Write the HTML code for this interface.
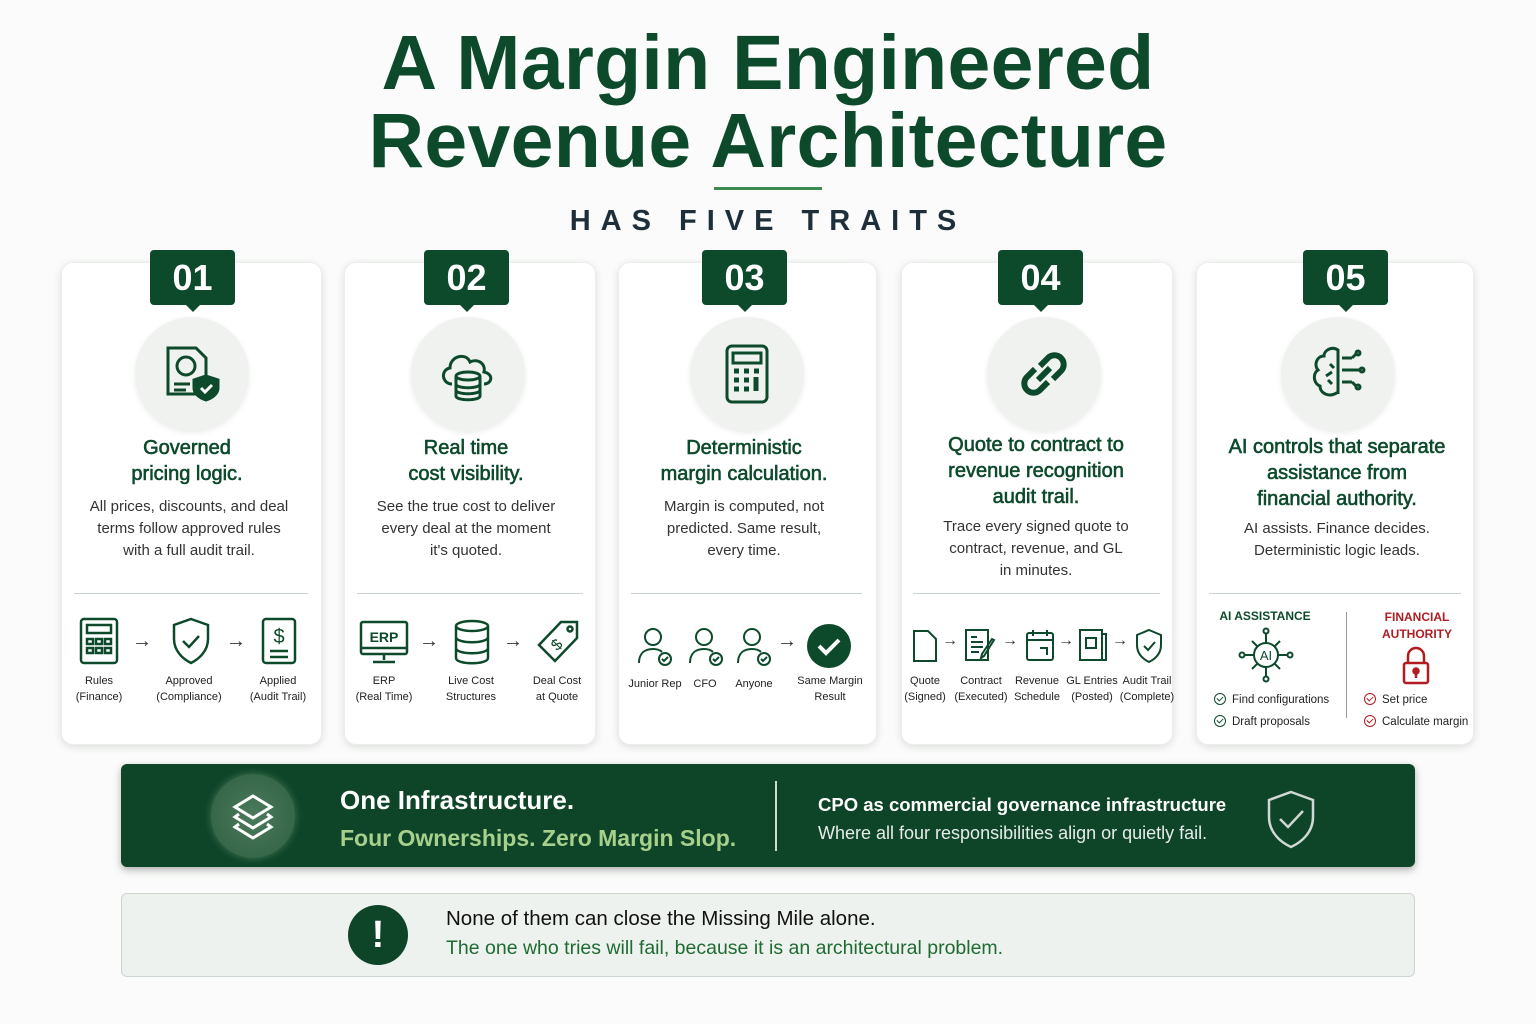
<!DOCTYPE html>
<html><head><meta charset="utf-8"><style>
*{margin:0;padding:0;box-sizing:border-box}
body{width:1536px;height:1024px;background:#fafbfa;font-family:"Liberation Sans",sans-serif;position:relative;overflow:hidden;color:#1f2a24}
.a{position:absolute}
h1{position:absolute;left:0;width:1536px;text-align:center;font-size:77px;line-height:78px;top:24px;color:#0d4a2c;font-weight:700;letter-spacing:0.3px}
.card{position:absolute;top:262px;height:483px;background:#fff;border-radius:12px;box-shadow:0 2px 8px rgba(0,0,0,.12);border:1px solid #eceeec}
.badge{position:absolute;top:250px;width:85px;height:55px;background:#0d4a2c;color:#fff;font-size:36px;font-weight:700;text-align:center;line-height:55px;border-radius:4px}
.badge:after{content:"";position:absolute;left:36px;bottom:-7px;border-left:7px solid transparent;border-right:7px solid transparent;border-top:7px solid #0d4a2c}
.circ{position:absolute;top:317px;width:114px;height:114px;border-radius:50%;background:#f0f2f0;box-shadow:0 2px 6px rgba(0,0,0,.08)}
.circ svg{position:absolute;left:27px;top:27px}
.tt{position:absolute;text-align:center;font-size:20px;line-height:26px;color:#0d4a2c;font-weight:normal;-webkit-text-stroke:0.6px #0d4a2c}
.ds{position:absolute;text-align:center;font-size:15px;line-height:22px;color:#333}
.hr{position:absolute;top:593px;height:1px;background:#c8d2cc}
.lb{position:absolute;text-align:center;font-size:11px;line-height:16px;color:#222}
.ar{position:absolute;font-size:20px;color:#333}
.ck{display:inline-block;width:12px;height:12px;border-radius:50%;border:1.5px solid;vertical-align:-2px;position:relative;margin-right:6px}
.ck:after{content:"";position:absolute;left:3px;top:1px;width:3px;height:5px;border:solid;border-width:0 1.5px 1.5px 0;transform:rotate(45deg)}
</style></head><body>
<h1>A Margin Engineered<br>Revenue Architecture</h1>
<div class="a" style="left:714px;top:187px;width:108px;height:3px;background:#3d8a4e"></div>
<div class="a" style="left:0;width:1536px;top:205px;text-align:center;font-size:29px;letter-spacing:10px;color:#1f2f3a;font-weight:700">HAS FIVE TRAITS</div>

<div class="card" style="left:61px;width:261px"></div>
<div class="card" style="left:344px;width:252px"></div>
<div class="card" style="left:618px;width:259px"></div>
<div class="card" style="left:901px;width:272px"></div>
<div class="card" style="left:1196px;width:278px"></div>

<div class="badge" style="left:150px">01</div>
<div class="badge" style="left:424px">02</div>
<div class="badge" style="left:702px">03</div>
<div class="badge" style="left:998px">04</div>
<div class="badge" style="left:1303px">05</div>

<div class="circ" style="left:135px"><svg width="60" height="60" viewBox="0 0 60 60" fill="none" stroke="#0d4a2c" stroke-width="3"><path d="M6 4h28l10 10v36H6z"/><circle cx="24" cy="22" r="9"/><path d="M12 40h16M12 46h12"/><path d="M44 32l12 4v8c0 6-6 10-12 12-6-2-12-6-12-12v-8z" fill="#0d4a2c"/><path d="M39 44l4 4 7-7" stroke="#fff"/></svg></div>
<div class="circ" style="left:411px"><svg width="60" height="60" viewBox="0 0 60 60" fill="none" stroke="#0d4a2c" stroke-width="3"><path d="M14 40C4 40 2 26 12 24 12 12 28 8 32 18c8-4 16 2 14 10 10 2 8 12 0 12"/><ellipse cx="30" cy="32" rx="12" ry="4"/><path d="M18 32v20c0 5 24 5 24 0V32M18 40c0 5 24 5 24 0M18 46c0 5 24 5 24 0"/></svg></div>
<div class="circ" style="left:690px"><svg width="60" height="60" viewBox="0 0 60 60" fill="none" stroke="#0d4a2c" stroke-width="3"><rect x="10" y="2" width="40" height="56" rx="5"/><rect x="16" y="9" width="28" height="10"/><path d="M17 27h5M27 27h5M37 27h5M17 36h5M27 36h5M17 45h5M27 45h5M39 33v14" stroke-width="5"/></svg></div>
<div class="circ" style="left:987px"><svg width="60" height="60" viewBox="0 0 60 60" fill="none" stroke="#0d4a2c" stroke-width="6"><path d="M26 22l8-8a9 9 0 0113 13l-8 8"/><path d="M34 38l-8 8a9 9 0 01-13-13l8-8"/><path d="M24 36l12-12"/></svg></div>
<div class="circ" style="left:1281px"><svg width="60" height="60" viewBox="0 0 60 60" fill="none" stroke="#0d4a2c" stroke-width="3"><path d="M30 6c-6-4-14 0-14 6-8 0-10 10-6 14-6 4-4 14 2 16 0 8 10 12 18 6zM30 6v44M22 20l4 4M18 32l6-4M24 40l-4-4"/><path d="M34 14h10M34 26h18M34 38h10M44 14l4-4M44 38l4 4"/><circle cx="50" cy="9" r="2"/><circle cx="54" cy="26" r="2"/><circle cx="50" cy="43" r="2"/></svg></div>

<div class="tt" style="left:61px;width:252px;top:435px">Governed<br>pricing logic.</div>
<div class="ds" style="left:61px;width:256px;top:496px">All prices, discounts, and deal<br>terms follow approved rules<br>with a full audit trail.</div>
<div class="tt" style="left:344px;width:244px;top:435px">Real time<br>cost visibility.</div>
<div class="ds" style="left:344px;width:244px;top:496px">See the true cost to deliver<br>every deal at the moment<br>it's quoted.</div>
<div class="tt" style="left:618px;width:252px;top:435px">Deterministic<br>margin calculation.</div>
<div class="ds" style="left:618px;width:252px;top:496px">Margin is computed, not<br>predicted. Same result,<br>every time.</div>
<div class="tt" style="left:901px;width:270px;top:432px">Quote to contract to<br>revenue recognition<br>audit trail.</div>
<div class="ds" style="left:901px;width:270px;top:516px">Trace every signed quote to<br>contract, revenue, and GL<br>in minutes.</div>
<div class="tt" style="left:1196px;width:282px;top:434px">AI controls that separate<br>assistance from<br>financial authority.</div>
<div class="ds" style="left:1196px;width:282px;top:518px">AI assists. Finance decides.<br>Deterministic logic leads.</div>

<div class="hr" style="left:74px;width:234px"></div>
<div class="hr" style="left:357px;width:226px"></div>
<div class="hr" style="left:631px;width:231px"></div>
<div class="hr" style="left:913px;width:247px"></div>
<div class="hr" style="left:1209px;width:252px"></div>

<svg class="a" style="left:78px;top:617px" width="42" height="48" viewBox="0 0 42 48" fill="none" stroke="#0d4a2c" stroke-width="2.5"><rect x="3" y="2" width="36" height="44" rx="3"/><rect x="9" y="8" width="24" height="8"/><path d="M9 22h6v5H9zM18 22h6v5h-6zM27 22h6v5h-6zM9 31h6v5H9zM18 31h6v5h-6zM27 31h6v5h-6z"/></svg>
<svg class="a" style="left:170px;top:617px" width="42" height="48" viewBox="0 0 42 48" fill="none" stroke="#0d4a2c" stroke-width="2.5"><path d="M21 2l17 6v14c0 12-9 20-17 24C13 42 4 34 4 22V8z"/><path d="M13 24l6 6 10-11"/></svg>
<svg class="a" style="left:260px;top:617px" width="38" height="48" viewBox="0 0 38 48" fill="none" stroke="#0d4a2c" stroke-width="2.5"><rect x="3" y="2" width="32" height="44" rx="3"/><path d="M10 34h18M10 40h18"/><text x="19" y="26" font-size="20" text-anchor="middle" fill="#0d4a2c" stroke="none" font-family="Liberation Sans">$</text></svg>
<div class="ar" style="left:132px;top:630px">→</div><div class="ar" style="left:226px;top:630px">→</div>
<div class="lb" style="left:68px;width:62px;top:673px">Rules<br>(Finance)</div>
<div class="lb" style="left:148px;width:82px;top:673px">Approved<br>(Compliance)</div>
<div class="lb" style="left:242px;width:72px;top:673px">Applied<br>(Audit Trail)</div>

<svg class="a" style="left:359px;top:620px" width="50" height="46" viewBox="0 0 50 46" fill="none" stroke="#0d4a2c" stroke-width="2.5"><rect x="2" y="2" width="46" height="32" rx="2"/><path d="M2 28h46M25 34v6M14 42h22"/><text x="25" y="22" font-size="14" font-weight="bold" text-anchor="middle" fill="#0d4a2c" stroke="none" font-family="Liberation Sans">ERP</text></svg>
<svg class="a" style="left:453px;top:619px" width="38" height="46" viewBox="0 0 38 46" fill="none" stroke="#0d4a2c" stroke-width="2.5"><ellipse cx="19" cy="7" rx="16" ry="5"/><path d="M3 7v32c0 7 32 7 32 0V7M3 18c0 7 32 7 32 0M3 29c0 7 32 7 32 0"/></svg>
<svg class="a" style="left:535px;top:619px" width="46" height="46" viewBox="0 0 46 46" fill="none" stroke="#0d4a2c" stroke-width="2.5"><path d="M26 3h16v16L20 42 4 26z"/><circle cx="35" cy="10" r="2.5"/><text x="22" y="31" font-size="16" text-anchor="middle" fill="#0d4a2c" stroke="none" font-family="Liberation Sans" transform="rotate(-45 22 26)">$</text></svg>
<div class="ar" style="left:419px;top:630px">→</div><div class="ar" style="left:503px;top:630px">→</div>
<div class="lb" style="left:350px;width:68px;top:673px">ERP<br>(Real Time)</div>
<div class="lb" style="left:436px;width:70px;top:673px">Live Cost<br>Structures</div>
<div class="lb" style="left:522px;width:70px;top:673px">Deal Cost<br>at Quote</div>

<svg class="a" style="left:637px;top:627px" width="36" height="40" viewBox="0 0 36 40" fill="none" stroke="#0d4a2c" stroke-width="2"><circle cx="16" cy="10" r="8"/><path d="M2 36c0-10 6-14 14-14 4 0 7 1 9 3"/><circle cx="28" cy="32" r="6"/><path d="M25 32l2 2 4-4"/></svg>
<svg class="a" style="left:688px;top:627px" width="36" height="40" viewBox="0 0 36 40" fill="none" stroke="#0d4a2c" stroke-width="2"><circle cx="16" cy="10" r="8"/><path d="M2 36c0-10 6-14 14-14 4 0 7 1 9 3"/><circle cx="28" cy="32" r="6"/><path d="M25 32l2 2 4-4"/></svg>
<svg class="a" style="left:736px;top:627px" width="36" height="40" viewBox="0 0 36 40" fill="none" stroke="#0d4a2c" stroke-width="2"><circle cx="16" cy="10" r="8"/><path d="M2 36c0-10 6-14 14-14 4 0 7 1 9 3"/><circle cx="28" cy="32" r="6"/><path d="M25 32l2 2 4-4"/></svg>
<div class="ar" style="left:777px;top:630px">→</div>
<svg class="a" style="left:806px;top:623px" width="46" height="46" viewBox="0 0 46 46"><circle cx="23" cy="23" r="22" fill="#0d4a2c"/><path d="M13 23l7 7 13-13" stroke="#fff" stroke-width="4" fill="none"/></svg>
<div class="lb" style="left:626px;width:58px;top:676px">Junior Rep</div>
<div class="lb" style="left:688px;width:34px;top:676px">CFO</div>
<div class="lb" style="left:730px;width:48px;top:676px">Anyone</div>
<div class="lb" style="left:790px;width:80px;top:673px">Same Margin<br>Result</div>

<svg class="a" style="left:912px;top:629px" width="26" height="34" viewBox="0 0 26 34" fill="none" stroke="#0d4a2c" stroke-width="2"><path d="M2 2h14l8 8v22H2z"/></svg>
<svg class="a" style="left:964px;top:628px" width="34" height="34" viewBox="0 0 34 34" fill="none" stroke="#0d4a2c" stroke-width="2"><path d="M2 2h22v30H2zM7 9h6M7 14h12M7 19h12M7 24h8M30 12L20 28l-3 2 1-4 10-15z"/></svg>
<svg class="a" style="left:1025px;top:628px" width="30" height="34" viewBox="0 0 30 34" fill="none" stroke="#0d4a2c" stroke-width="2"><rect x="2" y="5" width="26" height="27" rx="2"/><path d="M2 12h26M8 2v6M22 2v6M15 20h7v7"/></svg>
<svg class="a" style="left:1078px;top:628px" width="30" height="34" viewBox="0 0 30 34" fill="none" stroke="#0d4a2c" stroke-width="2"><rect x="2" y="2" width="22" height="30"/><path d="M24 6h4v26H6"/><rect x="8" y="10" width="10" height="10"/></svg>
<svg class="a" style="left:1134px;top:628px" width="30" height="36" viewBox="0 0 30 36" fill="none" stroke="#0d4a2c" stroke-width="2"><path d="M15 2l12 5v10c0 9-6 14-12 17C9 31 3 26 3 17V7z"/><path d="M10 18l4 4 7-8"/></svg>
<div class="ar" style="left:942px;top:632px;font-size:16px">→</div><div class="ar" style="left:1002px;top:632px;font-size:16px">→</div><div class="ar" style="left:1058px;top:632px;font-size:16px">→</div><div class="ar" style="left:1112px;top:632px;font-size:16px">→</div>
<div class="lb" style="left:902px;width:46px;top:673px">Quote<br>(Signed)</div>
<div class="lb" style="left:952px;width:58px;top:673px">Contract<br>(Executed)</div>
<div class="lb" style="left:1012px;width:50px;top:673px">Revenue<br>Schedule</div>
<div class="lb" style="left:1064px;width:56px;top:673px">GL Entries<br>(Posted)</div>
<div class="lb" style="left:1118px;width:58px;top:673px">Audit Trail<br>(Complete)</div>

<div class="a" style="left:1206px;width:118px;top:609px;text-align:center;font-size:12px;font-weight:700;color:#0d4a2c">AI ASSISTANCE</div>
<div class="a" style="left:1346px;top:612px;width:1px;height:106px;background:#999"></div>
<div class="a" style="left:1362px;width:110px;top:609px;text-align:center;font-size:12px;line-height:17px;font-weight:700;color:#b01c22">FINANCIAL<br>AUTHORITY</div>
<svg class="a" style="left:1238px;top:627px" width="56" height="56" viewBox="0 0 56 56" fill="none" stroke="#0d4a2c" stroke-width="2"><circle cx="28" cy="28" r="12"/><path d="M28 16V6M28 40v10M16 28H6M40 28h10M20 20l-6-6M36 20l6-6M20 36l-6 6M36 36l6 6"/><circle cx="28" cy="4" r="2.5"/><circle cx="28" cy="52" r="2.5"/><circle cx="4" cy="28" r="2.5"/><circle cx="52" cy="28" r="2.5"/><text x="28" y="33" font-size="13" text-anchor="middle" fill="#0d4a2c" stroke="none" font-family="Liberation Sans">AI</text></svg>
<svg class="a" style="left:1401px;top:646px" width="30" height="40" viewBox="0 0 30 40" fill="none" stroke="#b01c22" stroke-width="2.5"><path d="M7 17V10a8 8 0 0116 0v7"/><rect x="3" y="17" width="24" height="20" rx="2"/><circle cx="15" cy="25" r="2.5" fill="#b01c22"/><path d="M15 27v5"/></svg>
<div class="a" style="left:1214px;top:689px;font-size:11.5px;line-height:22px;color:#222"><span class="ck" style="color:#0d4a2c"></span>Find configurations<br><span class="ck" style="color:#0d4a2c"></span>Draft proposals</div>
<div class="a" style="left:1364px;top:689px;font-size:11.5px;line-height:22px;color:#222"><span class="ck" style="color:#b01c22"></span>Set price<br><span class="ck" style="color:#b01c22"></span>Calculate margin</div>

<div class="a" style="left:121px;top:764px;width:1294px;height:103px;background:#0e4428;border-radius:6px;box-shadow:0 3px 8px rgba(0,0,0,.3)"></div>
<div class="a" style="left:211px;top:774px;width:84px;height:84px;border-radius:50%;background:radial-gradient(circle,#4b7a5c,#2e5f40);box-shadow:0 0 8px rgba(150,200,160,.4)"></div>
<svg class="a" style="left:229px;top:792px" width="48" height="48" viewBox="0 0 48 48" fill="none" stroke="#fff" stroke-width="3"><path d="M24 4l18 11-18 11L6 15z"/><path d="M10 22l-4 3 18 11 18-11-4-3"/><path d="M10 32l-4 3 18 11 18-11-4-3"/></svg>
<div class="a" style="left:340px;top:785px;font-size:26px;color:#fff;font-weight:700">One Infrastructure.</div>
<div class="a" style="left:340px;top:825px;font-size:23px;color:#a8d08d;font-weight:700">Four Ownerships. Zero Margin Slop.</div>
<div class="a" style="left:775px;top:781px;width:2px;height:70px;background:#cfd8d2"></div>
<div class="a" style="left:818px;top:794px;font-size:18.5px;color:#fff;font-weight:700">CPO as commercial governance infrastructure</div>
<div class="a" style="left:818px;top:823px;font-size:18px;color:#e6ece8">Where all four responsibilities align or quietly fail.</div>
<svg class="a" style="left:1265px;top:789px" width="52" height="60" viewBox="0 0 52 60" fill="none" stroke="#cfd8d2" stroke-width="2.5"><path d="M26 3l22 8v17c0 15-11 25-22 30C15 53 4 43 4 28V11z"/><path d="M15 30l8 8 15-16"/></svg>

<div class="a" style="left:121px;top:893px;width:1294px;height:84px;background:#eef2ee;border:1px solid #cdd5cf;border-radius:6px"></div>
<div class="a" style="left:348px;top:905px;width:60px;height:60px;border-radius:50%;background:#0e4428;color:#fff;font-size:38px;font-weight:700;text-align:center;line-height:60px">!</div>
<div class="a" style="left:446px;top:907px;font-size:20.5px;color:#111">None of them can close the Missing Mile alone.</div>
<div class="a" style="left:446px;top:937px;font-size:19.5px;color:#1f6b33">The one who tries will fail, because it is an architectural problem.</div>
</body></html>
